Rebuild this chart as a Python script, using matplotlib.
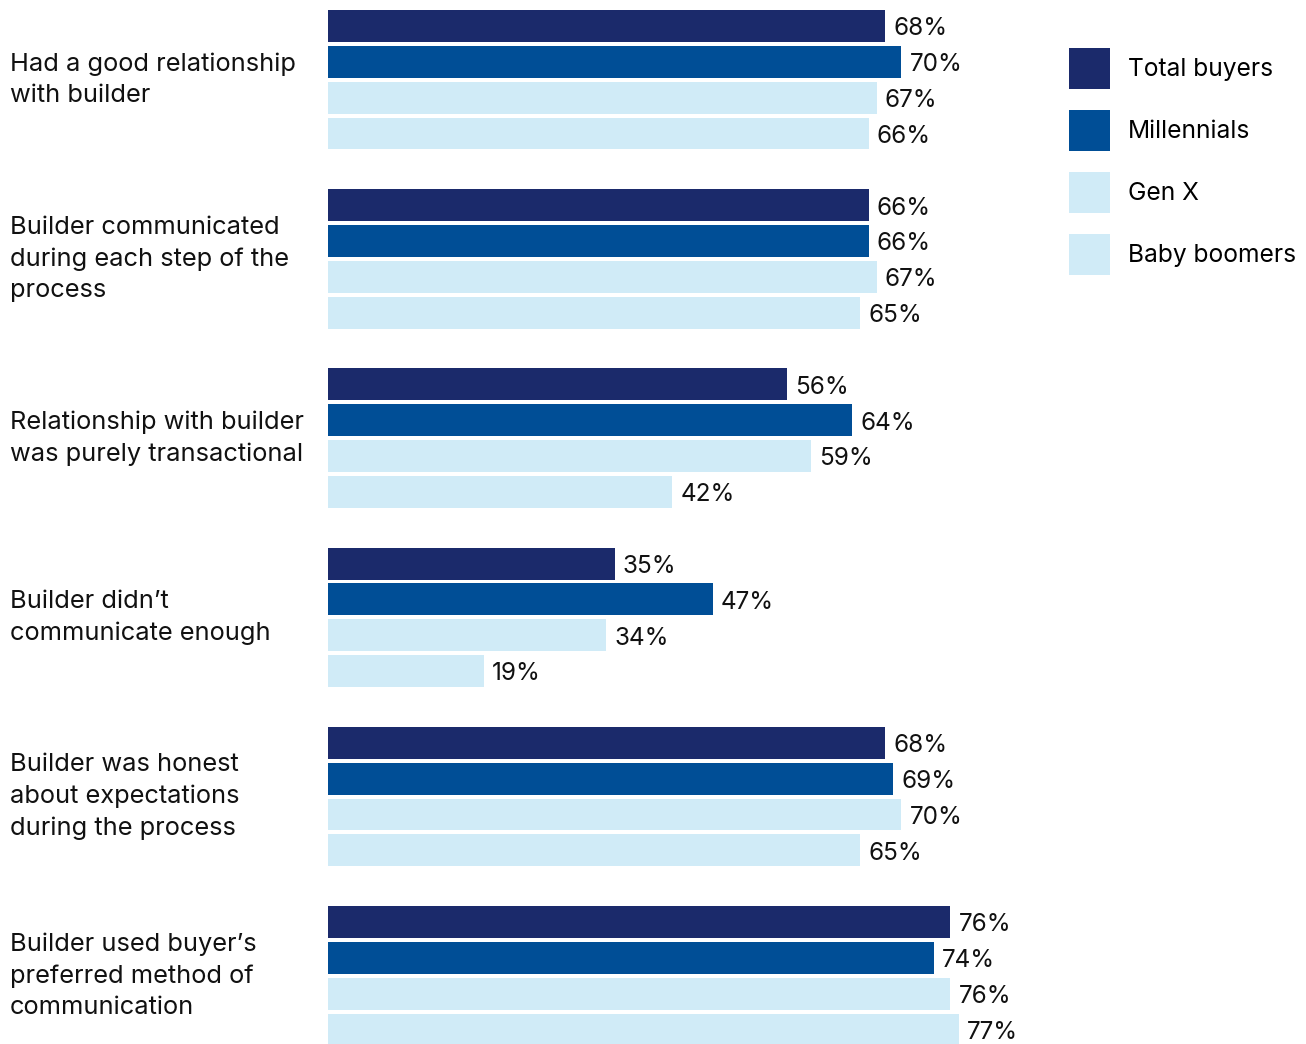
import numpy as np
import matplotlib.pyplot as plt
from matplotlib.patches import Patch

plt.rcParams['font.family'] = ['Inter', 'DejaVu Sans']

# 数据
categories = [
    'Had a good relationship\nwith builder',
    'Builder communicated\nduring each step of the\nprocess',
    'Relationship with builder\nwas purely transactional',
    'Builder didn\u2019t\ncommunicate enough',
    'Builder was honest\nabout expectations\nduring the process',
    'Builder used buyer\u2019s\npreferred method of\ncommunication',
]
series = ['Total buyers', 'Millennials', 'Gen X', 'Baby boomers']
total_buyers = [68, 66, 56, 35, 68, 76]
millennials = [70, 66, 64, 47, 69, 74]
gen_x = [67, 67, 59, 34, 70, 76]
baby_boomers = [66, 65, 42, 19, 65, 77]
colors = ['#1b2a6b', '#004e96', '#d0ebf7', '#d0ebf7']

values = [total_buyers, millennials, gen_x, baby_boomers]

W, H = 1306, 1044
fig = plt.figure(figsize=(W / 100, H / 100), dpi=100)
ax = fig.add_axes([328 / W, 0, 819 / W, 1])

n_groups = len(categories)
slot = 35.84  # 每个条形的像素间距
for j, vals in enumerate(values):
    ys = np.arange(n_groups) * 5 + j
    ax.barh(ys, vals, height=0.89, color=colors[j], edgecolor='none')
    for y, v in zip(ys, vals):
        ax.text(v + 1.0, y + 0.08, f'{v}%', va='center', ha='left',
                fontsize=17.5, color='#111111')

ax.set_xlim(0, 100)
ax.set_ylim((H - 26) / slot, -26 / slot)
ax.axis('off')

# 左侧分类标签
for g, lab in enumerate(categories):
    y = g * 5 + 1.5
    ax.text(-318 / 8.19, y, lab, ha='left', va='center', fontsize=18.3,
            linespacing=1.47, color='#111111')

handles = [Patch(facecolor=c, edgecolor='none') for c in colors]
fig.legend(handles, series, loc='upper left',
           bbox_to_anchor=(1069 / W, 1 - 48 / H), frameon=False,
           fontsize=17.7, handlelength=1.67, handleheight=2.19,
           labelspacing=0.85, handletextpad=0.72, borderpad=0,
           borderaxespad=0)

fig.savefig('out.png', dpi=100)
